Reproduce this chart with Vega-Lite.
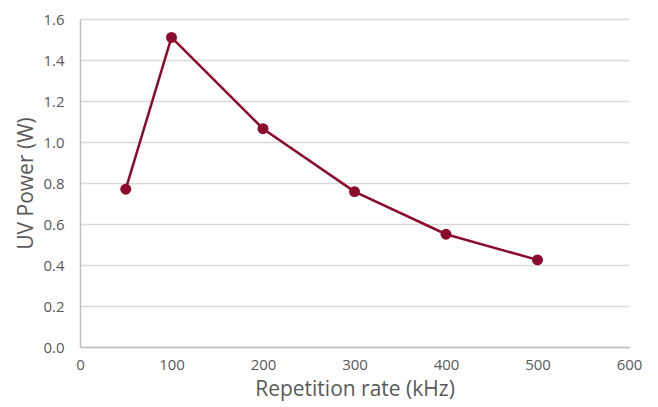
{
  "$schema": "https://vega.github.io/schema/vega-lite/v6.json",
  "width": 549,
  "height": 328,
  "autosize": {"type": "none"},
  "padding": {"left": 80, "top": 19, "right": 29, "bottom": 60},
  "background": "white",
  "config": {
    "view": {"stroke": null},
    "font": "Open Sans",
    "axis": {
      "labelFont": "Open Sans",
      "titleFont": "Open Sans",
      "labelColor": "#595959",
      "titleColor": "#595959",
      "labelFontSize": 15,
      "titleFontSize": 21,
      "titleFontWeight": "normal",
      "domainColor": "#bfbfbf",
      "domainWidth": 1.5,
      "gridColor": "#d9d9d9",
      "gridWidth": 1.5,
      "ticks": false,
      "labelFlush": false
    }
  },
  "data": {
    "values": [
      {"rate": 50, "power": 0.77},
      {"rate": 100, "power": 1.51},
      {"rate": 200, "power": 1.065},
      {"rate": 300, "power": 0.758},
      {"rate": 400, "power": 0.55},
      {"rate": 500, "power": 0.425}
    ]
  },
  "encoding": {
    "x": {
      "field": "rate",
      "type": "quantitative",
      "scale": {"domain": [0, 600], "nice": false},
      "axis": {"values": [0, 100, 200, 300, 400, 500, 600], "grid": false, "title": "Repetition rate (kHz)", "labelPadding": 10, "titlePadding": 6}
    },
    "y": {
      "field": "power",
      "type": "quantitative",
      "scale": {"domain": [0, 1.6], "nice": false},
      "axis": {"values": [0, 0.2, 0.4, 0.6, 0.8, 1.0, 1.2, 1.4, 1.6], "format": ".1f", "title": "UV Power (W)", "labelPadding": 16, "titlePadding": 6}
    }
  },
  "layer": [
    {"mark": {"type": "line", "color": "#8c0a2e", "strokeWidth": 2.5}},
    {"mark": {"type": "point", "filled": true, "color": "#8c0a2e", "size": 120, "opacity": 1}}
  ]
}
